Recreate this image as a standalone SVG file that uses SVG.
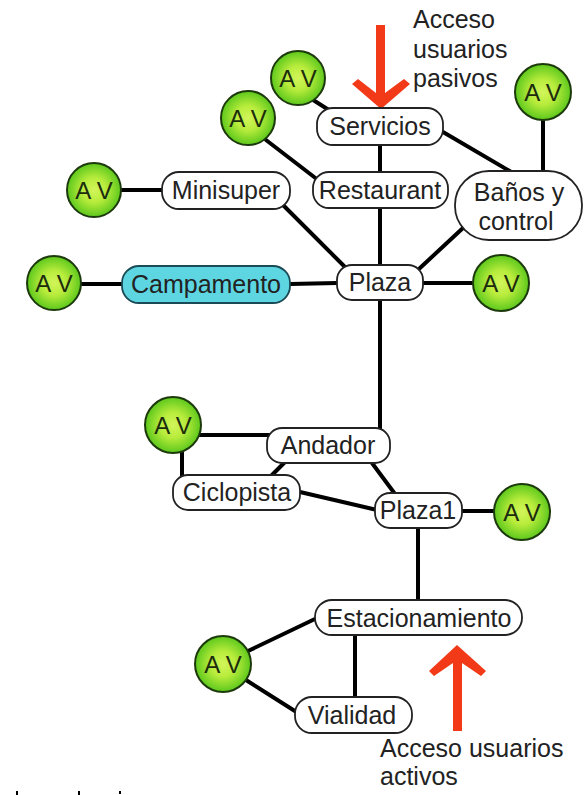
<svg xmlns="http://www.w3.org/2000/svg" width="585" height="795" viewBox="0 0 585 795">
  <defs>
    <radialGradient id="avFill" cx="50%" cy="50%" r="50%">
      <stop offset="0%" stop-color="#d2f55a"/>
      <stop offset="45%" stop-color="#b8ec3c"/>
      <stop offset="100%" stop-color="#5cc81c"/>
    </radialGradient>
  </defs>
  <style>
    text { font-family: "Liberation Sans", Arial, sans-serif; font-size: 25px; fill: #222; }
    .lbl { text-anchor: middle; }
    .av circle { fill: url(#avFill); stroke: #1d3a0c; stroke-width: 2; }
    .av text { text-anchor: middle; font-size: 24px; fill: #1c2c0e; }
    .box { fill: #fff; stroke: #222; stroke-width: 1.8; }
    .camp { fill: #5dd6e2; stroke: #1a4a55; stroke-width: 1.8; }
    .links line { stroke: #000; stroke-width: 4; stroke-linecap: round; }
    .access { fill: #f23a18; }
    .note { fill: #222; }
  </style>

  <rect width="585" height="795" fill="#fff"/>

  <!-- connectors -->
  <g class="links" id="connectors">
    <line x1="310" y1="98" x2="332" y2="112"/>
    <line x1="380" y1="145" x2="380" y2="172"/>
    <line x1="443" y1="132" x2="513" y2="173"/>
    <line x1="543" y1="119" x2="543" y2="172"/>
    <line x1="266" y1="140" x2="318" y2="180"/>
    <line x1="121" y1="190" x2="162" y2="190"/>
    <line x1="283" y1="205" x2="346" y2="268"/>
    <line x1="380" y1="208" x2="380" y2="265"/>
    <line x1="463" y1="228" x2="420" y2="268"/>
    <line x1="79" y1="284" x2="122" y2="284"/>
    <line x1="290" y1="284" x2="337" y2="283"/>
    <line x1="423" y1="283" x2="472" y2="283"/>
    <line x1="380" y1="300" x2="380" y2="430"/>
    <line x1="199" y1="435" x2="270" y2="435"/>
    <line x1="182" y1="450" x2="182" y2="478"/>
    <line x1="284" y1="463" x2="271" y2="476"/>
    <line x1="372" y1="463" x2="395" y2="494"/>
    <line x1="300" y1="492" x2="377" y2="510"/>
    <line x1="462" y1="511" x2="494" y2="511"/>
    <line x1="418" y1="528" x2="418" y2="600"/>
    <line x1="355" y1="635" x2="355" y2="697"/>
    <line x1="248" y1="651" x2="317" y2="618"/>
    <line x1="246" y1="680" x2="298" y2="713"/>
  </g>

  <!-- access arrows -->
  <g id="access-passive">
    <polygon class="access" points="376,25 385,25 385,93 404,79 410,84 381,109 352,84 358,79 376,93"/>
    <text class="note" x="413" y="28">Acceso</text>
    <text class="note" x="413" y="58">usuarios</text>
    <text class="note" x="413" y="87">pasivos</text>
  </g>
  <g id="access-active">
    <polygon class="access" points="453,731 462,731 462,663 481,676 486,671 457,645 429,671 434,676 453,663"/>
    <text class="note" x="380" y="757">Acceso usuarios</text>
    <text class="note" x="380" y="785">activos</text>
  </g>

  <!-- nodes -->
  <g id="servicios"><rect class="box" x="317" y="108" width="126" height="37" rx="16"/><text class="lbl" x="380" y="135">Servicios</text></g>
  <g id="restaurant"><rect class="box" x="313" y="172" width="135" height="36" rx="16"/><text class="lbl" x="380" y="199">Restaurant</text></g>
  <g id="banos"><rect class="box" x="455" y="171" width="127" height="69" rx="34"/><text class="lbl" x="519" y="201">Baños y</text><text class="lbl" x="516" y="230">control</text></g>
  <g id="minisuper"><rect class="box" x="162" y="172" width="128" height="37" rx="17"/><text class="lbl" x="226" y="199">Minisuper</text></g>
  <g id="campamento"><rect class="camp" x="122" y="266" width="168" height="37" rx="17"/><text class="lbl" x="206" y="293">Campamento</text></g>
  <g id="plaza"><rect class="box" x="337" y="265" width="86" height="35" rx="15"/><text class="lbl" x="380" y="291">Plaza</text></g>
  <g id="andador"><rect class="box" x="267" y="428" width="123" height="35" rx="15"/><text class="lbl" x="328" y="454">Andador</text></g>
  <g id="ciclopista"><rect class="box" x="173" y="475" width="127" height="35" rx="15"/><text class="lbl" x="237" y="501">Ciclopista</text></g>
  <g id="plaza1"><rect class="box" x="375" y="493" width="87" height="35" rx="15"/><text class="lbl" x="418" y="519">Plaza1</text></g>
  <g id="estacionamiento"><rect class="box" x="315" y="600" width="207" height="35" rx="17"/><text class="lbl" x="419" y="627">Estacionamiento</text></g>
  <g id="vialidad"><rect class="box" x="295" y="697" width="117" height="36" rx="17"/><text class="lbl" x="352" y="724">Vialidad</text></g>

  <!-- green areas -->
  <g id="av-servicios" class="av"><circle cx="298" cy="78" r="27"/><text x="298" y="87">A V</text></g>
  <g id="av-restaurant" class="av"><circle cx="248" cy="118" r="27"/><text x="248" y="127">A V</text></g>
  <g id="av-minisuper" class="av"><circle cx="94" cy="190" r="27"/><text x="94" y="199">A V</text></g>
  <g id="av-campamento" class="av"><circle cx="54" cy="283" r="27"/><text x="54" y="292">A V</text></g>
  <g id="av-banos" class="av"><circle cx="543" cy="92" r="28"/><text x="543" y="101">A V</text></g>
  <g id="av-plaza" class="av"><circle cx="501" cy="283" r="28"/><text x="501" y="292">A V</text></g>
  <g id="av-andador" class="av"><circle cx="173" cy="425" r="28"/><text x="173" y="434">A V</text></g>
  <g id="av-plaza1" class="av"><circle cx="522" cy="512" r="28"/><text x="522" y="521">A V</text></g>
  <g id="av-estacionamiento" class="av"><circle cx="223" cy="664" r="28"/><text x="223" y="673">A V</text></g>

  <!-- edge marks along the bottom border -->
  <g id="edge-marks" fill="#000">
    <rect x="16" y="791" width="2" height="4"/>
    <rect x="78" y="791" width="2" height="4"/>
    <rect x="119" y="791" width="2" height="3"/>
  </g>
</svg>
